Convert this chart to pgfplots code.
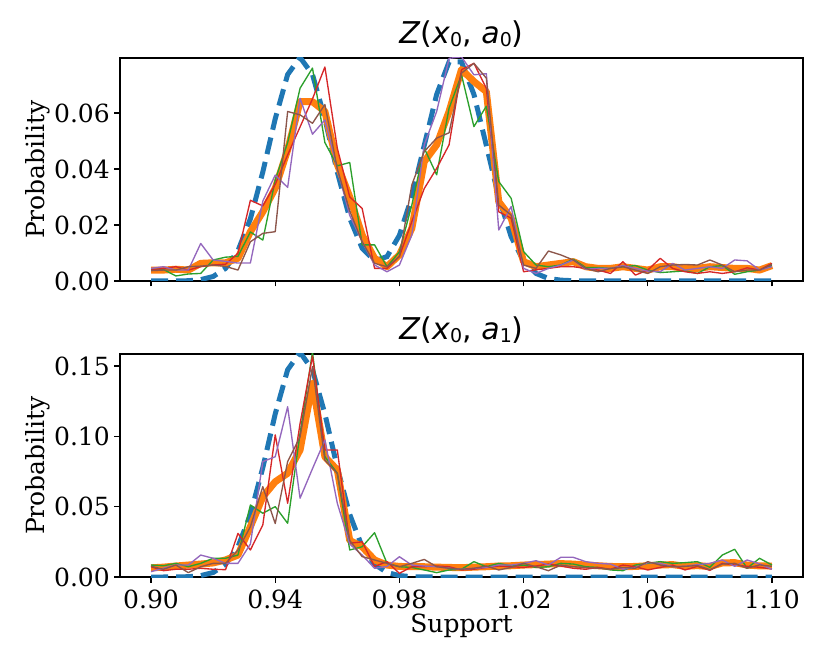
\documentclass[border=0pt]{standalone}
\usepackage{fontspec}
\setmainfont{DejaVu Serif}
\newfontfamily\titlefont{DejaVu Sans}
\usepackage{pgfplots}
\usepackage{pgfplotstable}
\pgfplotsset{compat=1.18}
\definecolor{tabblue}{HTML}{1F77B4}
\definecolor{taborange}{HTML}{FF7F0E}
\definecolor{tabgreen}{HTML}{2CA02C}
\definecolor{tabred}{HTML}{D62728}
\definecolor{tabpurple}{HTML}{9467BD}
\definecolor{tabbrown}{HTML}{8C564B}

\pgfplotstableread{
x b o g r p n
0.900 0.0000 0.0039 0.0042 0.0039 0.0045 0.0037
0.904 0.0000 0.0039 0.0041 0.0045 0.0051 0.0039
0.908 0.0000 0.0042 0.0018 0.0051 0.0039 0.0039
0.912 0.0001 0.0039 0.0025 0.0039 0.0039 0.0051
0.916 0.0005 0.0063 0.0027 0.0051 0.0134 0.0053
0.920 0.0016 0.0065 0.0075 0.0057 0.0075 0.0057
0.924 0.0045 0.0065 0.0085 0.0060 0.0070 0.0052
0.928 0.0108 0.0081 0.0088 0.0099 0.0064 0.0039
0.932 0.0222 0.0176 0.0175 0.0288 0.0064 0.0140
0.936 0.0389 0.0247 0.0146 0.0268 0.0285 0.0170
0.940 0.0579 0.0331 0.0360 0.0345 0.0378 0.0176
0.944 0.0737 0.0468 0.0494 0.0450 0.0334 0.0605
0.948 0.0798 0.0640 0.0688 0.0550 0.0652 0.0593
0.952 0.0737 0.0640 0.0760 0.0650 0.0524 0.0563
0.956 0.0579 0.0605 0.0494 0.0764 0.0575 0.0630
0.960 0.0389 0.0416 0.0411 0.0474 0.0400 0.0400
0.964 0.0224 0.0300 0.0423 0.0300 0.0234 0.0250
0.968 0.0117 0.0164 0.0129 0.0259 0.0141 0.0140
0.972 0.0072 0.0081 0.0129 0.0045 0.0057 0.0063
0.976 0.0087 0.0051 0.0051 0.0045 0.0033 0.0051
0.980 0.0163 0.0093 0.0104 0.0088 0.0057 0.0087
0.984 0.0300 0.0188 0.0271 0.0212 0.0164 0.0343
0.988 0.0484 0.0426 0.0474 0.0330 0.0486 0.0462
0.992 0.0666 0.0486 0.0379 0.0402 0.0605 0.0510
0.996 0.0782 0.0605 0.0617 0.0486 0.0795 0.0529
1.000 0.0782 0.0755 0.0736 0.0754 0.0800 0.0742
1.004 0.0666 0.0712 0.0551 0.0777 0.0736 0.0777
1.008 0.0484 0.0676 0.0624 0.0688 0.0740 0.0724
1.012 0.0299 0.0283 0.0355 0.0247 0.0182 0.0271
1.016 0.0158 0.0224 0.0295 0.0224 0.0266 0.0235
1.020 0.0071 0.0069 0.0105 0.0033 0.0045 0.0057
1.024 0.0027 0.0051 0.0057 0.0040 0.0027 0.0045
1.028 0.0009 0.0057 0.0051 0.0045 0.0045 0.0107
1.032 0.0003 0.0063 0.0057 0.0051 0.0057 0.0093
1.036 0.0001 0.0069 0.0078 0.0051 0.0075 0.0075
1.040 0.0000 0.0051 0.0048 0.0045 0.0042 0.0045
1.044 0.0000 0.0045 0.0048 0.0039 0.0045 0.0033
1.048 0.0000 0.0045 0.0045 0.0027 0.0045 0.0045
1.052 0.0000 0.0051 0.0051 0.0069 0.0055 0.0051
1.056 0.0000 0.0045 0.0055 0.0021 0.0045 0.0039
1.060 0.0000 0.0039 0.0039 0.0039 0.0035 0.0027
1.064 0.0000 0.0051 0.0030 0.0081 0.0033 0.0051
1.068 0.0000 0.0051 0.0033 0.0045 0.0063 0.0057
1.072 0.0000 0.0045 0.0036 0.0033 0.0039 0.0059
1.076 0.0000 0.0045 0.0027 0.0027 0.0045 0.0057
1.080 0.0000 0.0051 0.0051 0.0033 0.0051 0.0075
1.084 0.0000 0.0048 0.0055 0.0027 0.0045 0.0057
1.088 0.0000 0.0045 0.0024 0.0033 0.0075 0.0033
1.092 0.0000 0.0045 0.0033 0.0047 0.0072 0.0039
1.096 0.0000 0.0039 0.0039 0.0039 0.0039 0.0039
1.100 0.0000 0.0055 0.0055 0.0063 0.0051 0.0059
}\topdata

\pgfplotstableread{
x b o g r p n
0.900 0.0000 0.0065 0.0085 0.0073 0.0038 0.0076
0.904 0.0000 0.0070 0.0080 0.0045 0.0062 0.0055
0.908 0.0001 0.0078 0.0097 0.0055 0.0085 0.0085
0.912 0.0002 0.0085 0.0073 0.0055 0.0085 0.0031
0.916 0.0010 0.0092 0.0097 0.0062 0.0156 0.0073
0.920 0.0032 0.0100 0.0133 0.0055 0.0133 0.0097
0.924 0.0090 0.0121 0.0133 0.0052 0.0097 0.0097
0.928 0.0215 0.0156 0.0156 0.0310 0.0097 0.0192
0.932 0.0444 0.0358 0.0512 0.0192 0.0234 0.0358
0.936 0.0777 0.0570 0.0453 0.0370 0.0820 0.0642
0.940 0.1159 0.0677 0.0500 0.1010 0.0855 0.0380
0.944 0.1473 0.0737 0.0382 0.0524 0.1210 0.0820
0.948 0.1596 0.0903 0.1020 0.1090 0.0560 0.0997
0.952 0.1473 0.1376 0.1600 0.1570 0.0770 0.1495
0.956 0.1159 0.0855 0.0855 0.0903 0.0974 0.0830
0.960 0.0777 0.0760 0.0737 0.0903 0.0524 0.0737
0.964 0.0444 0.0260 0.0192 0.0240 0.0234 0.0260
0.968 0.0215 0.0215 0.0215 0.0250 0.0156 0.0145
0.972 0.0090 0.0121 0.0315 0.0075 0.0062 0.0121
0.976 0.0032 0.0085 0.0097 0.0109 0.0075 0.0097
0.980 0.0010 0.0075 0.0073 0.0026 0.0144 0.0073
0.984 0.0002 0.0073 0.0068 0.0073 0.0085 0.0097
0.988 0.0001 0.0073 0.0050 0.0073 0.0078 0.0125
0.992 0.0000 0.0070 0.0031 0.0078 0.0073 0.0073
0.996 0.0000 0.0068 0.0050 0.0073 0.0062 0.0062
1.000 0.0000 0.0066 0.0055 0.0050 0.0055 0.0055
1.004 0.0000 0.0070 0.0109 0.0055 0.0062 0.0062
1.008 0.0000 0.0073 0.0073 0.0068 0.0068 0.0078
1.012 0.0000 0.0078 0.0097 0.0078 0.0085 0.0050
1.016 0.0000 0.0080 0.0078 0.0073 0.0085 0.0068
1.020 0.0000 0.0085 0.0085 0.0068 0.0097 0.0097
1.024 0.0000 0.0088 0.0068 0.0078 0.0116 0.0073
1.028 0.0000 0.0092 0.0073 0.0092 0.0085 0.0045
1.032 0.0000 0.0095 0.0097 0.0078 0.0140 0.0085
1.036 0.0000 0.0092 0.0092 0.0062 0.0140 0.0073
1.040 0.0000 0.0085 0.0073 0.0055 0.0109 0.0068
1.044 0.0000 0.0080 0.0068 0.0068 0.0097 0.0062
1.048 0.0000 0.0075 0.0050 0.0055 0.0092 0.0055
1.052 0.0000 0.0073 0.0045 0.0085 0.0055 0.0068
1.056 0.0000 0.0075 0.0085 0.0073 0.0068 0.0062
1.060 0.0000 0.0080 0.0097 0.0050 0.0102 0.0109
1.064 0.0000 0.0085 0.0109 0.0068 0.0097 0.0085
1.068 0.0000 0.0088 0.0097 0.0085 0.0073 0.0073
1.072 0.0000 0.0076 0.0102 0.0050 0.0076 0.0076
1.076 0.0000 0.0081 0.0109 0.0076 0.0088 0.0081
1.080 0.0000 0.0074 0.0069 0.0047 0.0097 0.0052
1.084 0.0000 0.0100 0.0156 0.0097 0.0121 0.0092
1.088 0.0000 0.0102 0.0197 0.0085 0.0076 0.0097
1.092 0.0000 0.0085 0.0062 0.0076 0.0121 0.0062
1.096 0.0000 0.0079 0.0133 0.0069 0.0093 0.0086
1.100 0.0000 0.0078 0.0085 0.0057 0.0055 0.0076
}\botdata

\pgfplotsset{
  panel/.style={
    scale only axis, width=683pt, height=223pt,
    anchor=south west,
    xmin=0.89, xmax=1.11, ymin=0,
    xtick={0.90,0.94,0.98,1.02,1.06,1.10},
    tick align=outside, xtick pos=bottom, ytick pos=left,
    major tick length=5.5pt,
    tick style={black, line width=1.2pt},
    axis line style={line width=1.2pt},
    scaled x ticks=false, scaled y ticks=false,
    /pgf/number format/assume math mode=true,
    /pgf/number format/fixed,
    /pgf/number format/fixed zerofill,
    /pgf/number format/precision=2,
    tick label style={font=\fontsize{25}{29}\selectfont},
    xticklabel style={inner sep=0pt, anchor=north, yshift=-7.5pt},
    yticklabel style={inner sep=0pt, anchor=east, xshift=-4.5pt},
    ylabel=Probability,
    ylabel style={font=\fontsize{25}{29}\selectfont, at={(axis description cs:-0.1201,0.5)}, anchor=center},
    title style={at={(axis description cs:0.5,1)}, anchor=base, yshift=8pt, inner sep=0pt},
    clip=true,
  },
  sblue/.style={tabblue, line width=5pt, dash pattern=on 17pt off 8pt},
  sorange/.style={taborange, line width=7pt, line join=round},
  sthin/.style={line width=1.35pt, line join=round},
}

\begin{document}
\begin{tikzpicture}
\useasboundingbox (0,0) rectangle (830pt,664pt);
\begin{axis}[panel, at={(120pt,383pt)}, ymax=0.0796,
  ytick={0,0.02,0.04,0.06}, xticklabels={},
  title={\titlefont\fontsize{30}{36}\selectfont\textit{Z}(\textit{x}\raisebox{-3pt}{\fontsize{19}{20}\selectfont 0}, \textit{a}\raisebox{-3pt}{\fontsize{19}{20}\selectfont 0})}]
\addplot[sblue] table[x=x,y=b]{\topdata};
\addplot[sorange] table[x=x,y=o]{\topdata};
\addplot[sthin, tabgreen] table[x=x,y=g]{\topdata};
\addplot[sthin, tabred] table[x=x,y=r]{\topdata};
\addplot[sthin, tabpurple] table[x=x,y=p]{\topdata};
\addplot[sthin, tabbrown] table[x=x,y=n]{\topdata};
\end{axis}
\begin{axis}[panel, at={(120pt,87pt)}, ymax=0.1585,
  ytick={0,0.05,0.10,0.15},
  xlabel=Support,
  xlabel style={font=\fontsize{25}{29}\selectfont, at={(axis description cs:0.5,0)}, anchor=base, yshift=-55pt, inner sep=0pt},
  title={\titlefont\fontsize{30}{36}\selectfont\textit{Z}(\textit{x}\raisebox{-3pt}{\fontsize{19}{20}\selectfont 0}, \textit{a}\raisebox{-3pt}{\fontsize{19}{20}\selectfont 1})}]
\addplot[sblue] table[x=x,y=b]{\botdata};
\addplot[sorange] table[x=x,y=o]{\botdata};
\addplot[sthin, tabgreen] table[x=x,y=g]{\botdata};
\addplot[sthin, tabred] table[x=x,y=r]{\botdata};
\addplot[sthin, tabpurple] table[x=x,y=p]{\botdata};
\addplot[sthin, tabbrown] table[x=x,y=n]{\botdata};
\end{axis}
\end{tikzpicture}
\end{document}
